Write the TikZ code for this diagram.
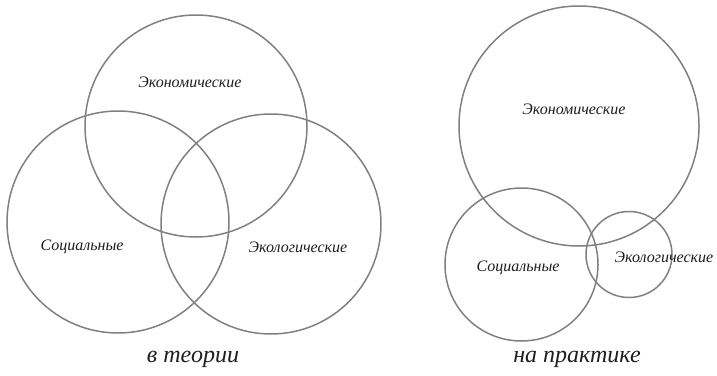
\documentclass[tikz,border=0pt]{standalone}
\usepackage{fontspec}
\setmainfont{Liberation Serif}
\usepackage{tikz}

\definecolor{ringgray}{RGB}{128,128,128}
\definecolor{inkgray}{RGB}{30,30,30}

\begin{document}
\begin{tikzpicture}[x=1pt, y=-1pt, line width=1.5pt,
    ring/.style={draw=ringgray},
    area/.style={text=inkgray, font=\fontsize{16}{18}\selectfont\itshape},
    caption/.style={text=inkgray, font=\fontsize{24}{27}\selectfont\itshape}]

\useasboundingbox (0, 0) rectangle (717, 375);

% draw theory circles
\draw[ring] (196, 126) circle (111);
\draw[ring] (118, 222) circle (111);
\draw[ring] (271, 224) circle (110);

% draw practice circles
\draw[ring] (579, 126) circle (120);
\draw[ring] (521.5, 264.5) circle (76.5);
\draw[ring] (629, 254.5) circle (43);

% draw labels
\node[area] (econ1) at (190, 82) {Экономические};
\node[area] (soc1) at (82, 247) {Социальные};
\node[area] (eco1) at (298, 247) {Экологические};
\node[caption] (theory) at (193, 359) {в теории};

\node[area] (econ2) at (574, 109) {Экономические};
\node[area] (soc2) at (518, 268) {Социальные};
\node[area] (eco2) at (664, 257) {Экологические};
\node[caption] (practice) at (577, 359) {на практике};

\end{tikzpicture}
\end{document}
